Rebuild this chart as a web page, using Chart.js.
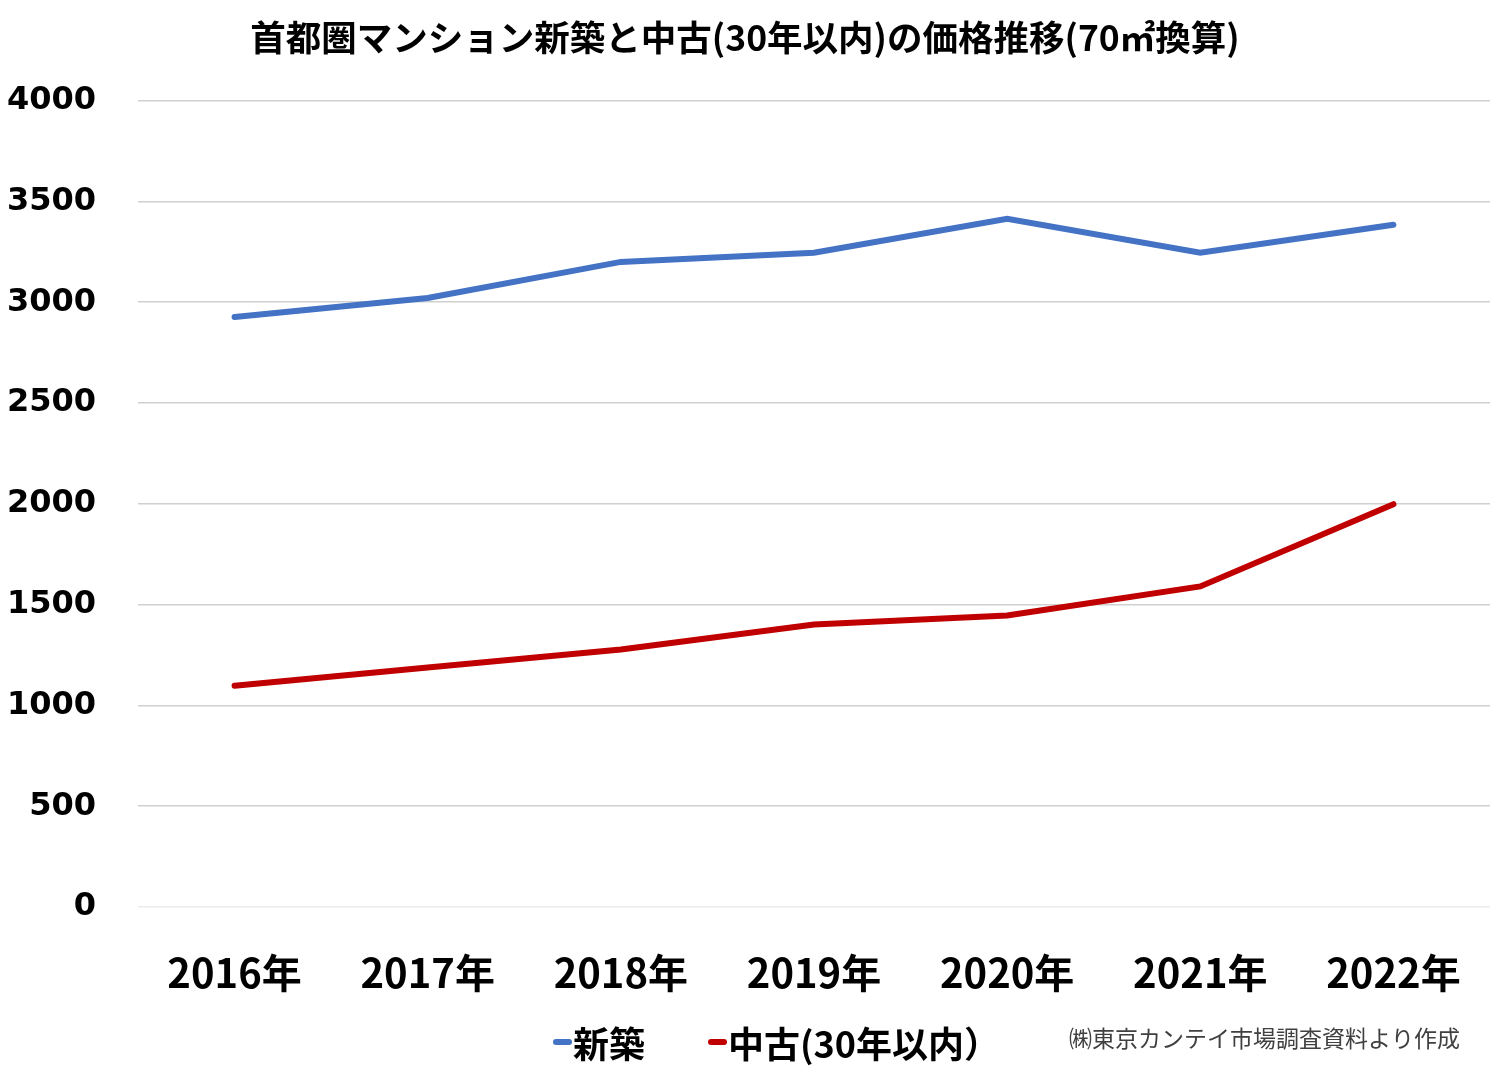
<!DOCTYPE html>
<html>
<head>
<meta charset="utf-8">
<script src="https://cdn.jsdelivr.net/npm/chart.js@4"></script>
<style>
  html, body { margin: 0; padding: 0; background: #fff; }
  #wrap { width: 1500px; height: 1071px; }
</style>
</head>
<body>
<div id="wrap"><canvas id="chart" width="1500" height="1071"></canvas></div>
<script>
// data
const years = ['2016年', '2017年', '2018年', '2019年', '2020年', '2021年', '2022年'];
const newBuilt = [2927, 3021, 3200, 3245, 3414, 3245, 3384];
const used30 = [1098, 1188, 1277, 1401, 1446, 1590, 1998];
const yTicks = [0, 500, 1000, 1500, 2000, 2500, 3000, 3500, 4000];

const titleText = '首都圏マンション新築と中古(30年以内)の価格推移(70㎡換算)';
const sourceText = '㈱東京カンテイ市場調査資料より作成';

const jp = '"Noto Sans CJK JP", "Noto Sans", sans-serif';

// legend + footnote at the bottom, drawn by hand so the marker sits right against the text
const bottomLegend = {
    id: 'bottomLegend',
    afterDraw(chart) {
        const c = chart.ctx;
        const y = 1044;
        c.save();
        c.textBaseline = 'middle';
        c.textAlign = 'left';
        c.font = 'bold 36px ' + jp;
        let x = 553;
        chart.data.datasets.forEach((ds) => {
            c.strokeStyle = ds.borderColor;
            c.lineWidth = 6;
            c.lineCap = 'round';
            c.beginPath();
            c.moveTo(x + 3, y - 2);
            c.lineTo(x + 16, y - 2);
            c.stroke();
            c.fillStyle = '#000';
            c.fillText(ds.label, x + 20, y);
            x += 20 + c.measureText(ds.label).width + 63;
        });
        c.font = '23px ' + jp;
        c.fillStyle = '#404040';
        c.textAlign = 'right';
        c.fillText(sourceText, 1460, 1038);
        c.restore();
    }
};

document.addEventListener('DOMContentLoaded', () => {
    const ctx = document.getElementById('chart').getContext('2d');
    new Chart(ctx, {
        type: 'line',
        data: {
            labels: years,
            datasets: [
                { label: '新築', data: newBuilt, borderColor: '#4472c4', backgroundColor: '#4472c4', borderWidth: 6, pointRadius: 0, borderCapStyle: 'round', tension: 0 },
                { label: '中古(30年以内）', data: used30, borderColor: '#c00000', backgroundColor: '#c00000', borderWidth: 6, pointRadius: 0, borderCapStyle: 'round', tension: 0 }
            ]
        },
        options: {
            responsive: false,
            animation: false,
            layout: { padding: { left: 0, right: 10, top: 16, bottom: 40 } },
            plugins: {
                title: {
                    display: true,
                    text: titleText,
                    color: '#000',
                    font: { family: jp, size: 35.5, weight: 'bold', lineHeight: 1.2 },
                    padding: { top: 0, bottom: 42 }
                },
                legend: { display: false },
                tooltip: { enabled: false }
            },
            scales: {
                x: {
                    offset: true,
                    grid: { display: false },
                    border: { display: false },
                    ticks: { color: '#000', font: { family: jp, size: 40, weight: 'bold' }, padding: 34 }
                },
                y: {
                    min: 0,
                    max: 4000,
                    afterBuildTicks: (axis) => { axis.ticks = yTicks.map(v => ({ value: v })); },
                    afterFit: (axis) => { axis.width = 138; },
                    grid: {
                        color: (g) => (g.tick && g.tick.value === 0 ? '#ebebeb' : '#d0d0d0'),
                        lineWidth: 1.5,
                        drawTicks: false
                    },
                    border: { display: false },
                    ticks: {
                        color: '#000',
                        font: { family: '"DejaVu Sans", sans-serif', size: 32, weight: 'bold' },
                        padding: 42,
                        callback: (v) => String(v)
                    }
                }
            }
        },
        plugins: [bottomLegend]
    });
});
</script>
</body>
</html>
